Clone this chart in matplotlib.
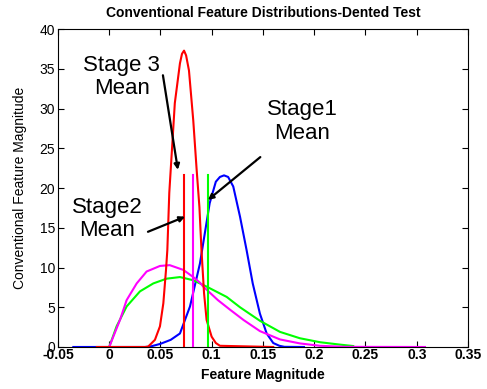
import matplotlib
matplotlib.use('Agg')
import matplotlib.pyplot as plt

plt.rcParams['font.family'] = ['Liberation Sans', 'DejaVu Sans']

# curves
red_x = [-0.012, 0.035, 0.038, 0.0446, 0.0495, 0.0528, 0.0554, 0.0567, 0.0586, 0.061, 0.064,
         0.069, 0.071, 0.073, 0.075, 0.0778, 0.082, 0.0853, 0.088, 0.090, 0.0925, 0.095,
         0.0999, 0.104, 0.108, 0.16]
red_y = [0, 0, 0.05, 0.9, 2.6, 5.5, 9.7, 12.2, 19.4, 24.4, 30.7,
         35.7, 36.9, 37.3, 36.7, 34.8, 28.5, 22.3, 17.6, 12.2, 6.8, 3.4,
         1.3, 0.5, 0.15, 0]

blue_x = [-0.035, 0.035, 0.04, 0.05, 0.06, 0.069, 0.0788, 0.0885, 0.098, 0.104, 0.108, 0.112,
          0.116, 0.121, 0.1276, 0.134, 0.140, 0.147, 0.1536, 0.16, 0.166, 0.171, 0.19]
blue_y = [0, 0, 0.05, 0.4, 0.9, 1.7, 5.1, 10.5, 18.1, 20.8, 21.4, 21.6,
          21.4, 20.2, 16.4, 12.2, 8.0, 4.2, 1.7, 0.5, 0.15, 0.02, 0]

magenta_x = [0.0, 0.004, 0.0105, 0.017, 0.0268, 0.0365, 0.0495, 0.059, 0.0723, 0.082, 0.0885,
             0.0918, 0.106, 0.1178, 0.131, 0.147, 0.1666, 0.186, 0.2056, 0.23, 0.308]
magenta_y = [0, 1.3, 3.4, 5.9, 8.0, 9.5, 10.2, 10.3, 9.7, 8.8, 8.1,
             7.6, 5.9, 4.7, 3.4, 2.0, 0.95, 0.45, 0.15, 0.02, 0]

green_x = [0.0, 0.0072, 0.017, 0.030, 0.043, 0.056, 0.069, 0.082, 0.095, 0.1146, 0.1276,
           0.147, 0.1666, 0.186, 0.2056, 0.225, 0.238]
green_y = [0, 2.6, 5.1, 7.0, 8.0, 8.6, 8.8, 8.4, 7.6, 6.3, 5.0,
           3.3, 1.9, 1.1, 0.6, 0.3, 0.12]

# stage means (vertical markers)
mean_x = [0.0966, 0.082, 0.0733]
mean_colors = ['#00ff00', '#ff00ff', '#ff0000']
mean_height = 21.6

# annotation labels: (text, text position, arrow tail, arrow head)
notes = [
    ('Stage 3\nMean', (0.0124, 34.0), (0.0524, 34.2), (0.067, 22.3)),
    ('Stage1\nMean', (0.188, 28.4), (0.1474, 23.9), (0.0963, 18.5)),
    ('Stage2\nMean', (-0.002, 16.1), (0.0378, 14.5), (0.074, 16.4)),
]

fig = plt.figure(figsize=(4.87, 3.89), dpi=100)
ax = fig.add_axes([0.119, 0.108, 0.842, 0.817])

lw = 1.5
ax.plot(blue_x, blue_y, color='#0000ff', lw=lw)
ax.plot(green_x, green_y, color='#00ff00', lw=lw)
ax.plot(magenta_x, magenta_y, color='#ff00ff', lw=lw)
ax.plot(red_x, red_y, color='#ff0000', lw=lw)
for xm, c in zip(mean_x, mean_colors):
    ax.plot([xm, xm], [0, mean_height], color=c, lw=lw)

ax.set_xlim(-0.05, 0.35)
ax.set_ylim(0, 40)
ax.set_xticks([-0.05, 0, 0.05, 0.1, 0.15, 0.2, 0.25, 0.3, 0.35])
ax.set_xticklabels(['-0.05', '0', '0.05', '0.1', '0.15', '0.2', '0.25', '0.3', '0.35'],
                   fontweight='bold')
ax.set_yticks(range(0, 41, 5))
ax.tick_params(direction='in', top=True, right=True, labelsize=10, length=4)
ax.tick_params(axis='x', pad=1)
ax.tick_params(axis='y', pad=2)

ax.set_title('Conventional Feature Distributions-Dented Test', fontsize=10,
             fontweight='bold', pad=9)
ax.set_xlabel('Feature Magnitude', fontsize=10, fontweight='bold', labelpad=4)
ax.set_ylabel('Conventional Feature Magnitude', fontsize=10, labelpad=9)

arrow = dict(arrowstyle='-|>', color='black', lw=1.6, mutation_scale=8, shrinkA=0, shrinkB=0)
for txt, pos, tail, head in notes:
    ax.text(pos[0], pos[1], txt, fontsize=16, ha='center', va='center', linespacing=1.15)
    ax.annotate('', xy=head, xytext=tail, arrowprops=arrow)

fig.savefig('out.png', dpi=100)
